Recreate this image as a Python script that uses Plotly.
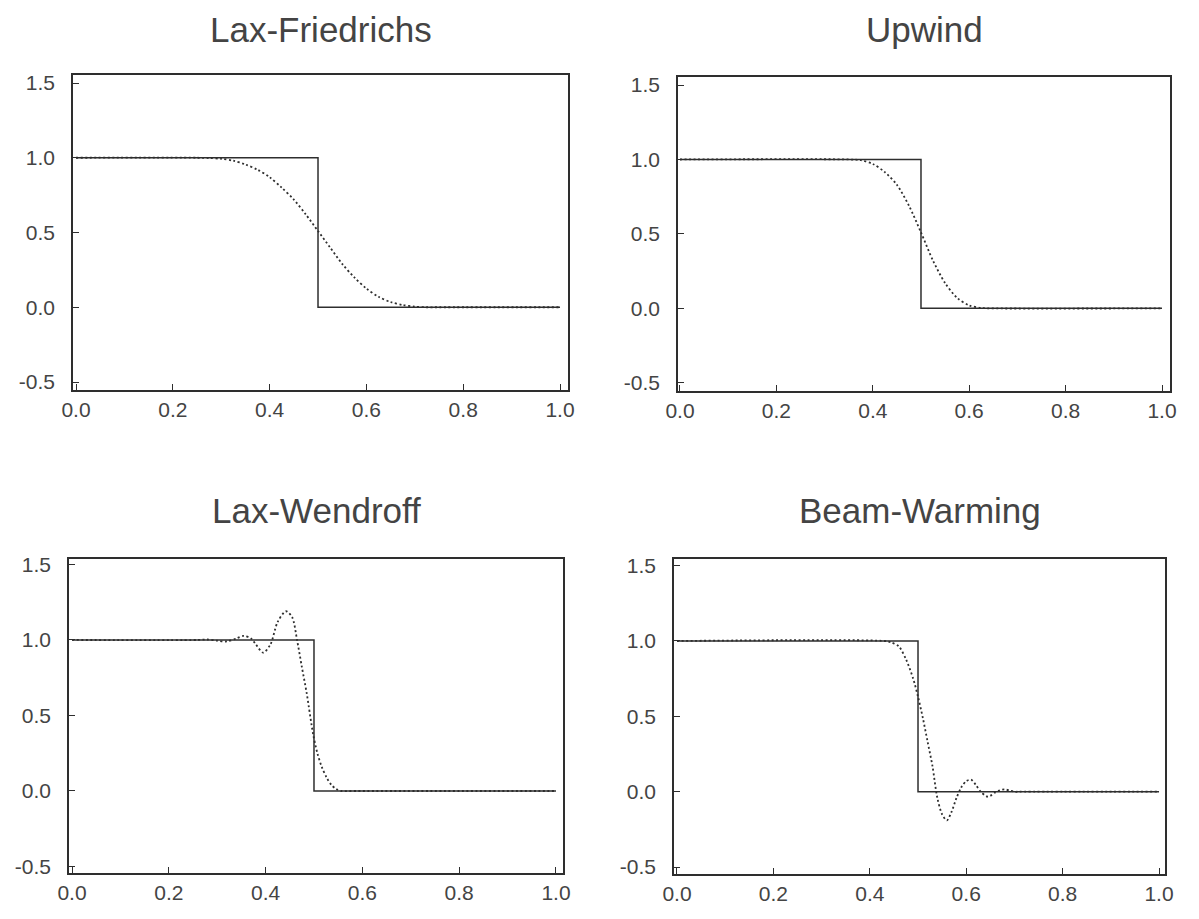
import plotly.graph_objects as go

titles = ["Lax-Friedrichs", "Upwind", "Lax-Wendroff", "Beam-Warming"]

# exact solution (step)
exact_x = [0.0, 0.5, 0.5, 1.0]
exact_y = [1.0, 1.0, 0.0, 0.0]

lf_x = [0.0, 0.25, 0.275, 0.30, 0.325, 0.35, 0.375, 0.40, 0.425, 0.45, 0.475, 0.50,
        0.525, 0.55, 0.575, 0.60, 0.625, 0.65, 0.675, 0.70, 0.725, 0.75, 1.0]
lf_y = [1.0, 1.0, 0.998, 0.993, 0.98, 0.955, 0.92, 0.87, 0.80, 0.72, 0.62, 0.51,
        0.40, 0.29, 0.20, 0.125, 0.07, 0.035, 0.015, 0.004, 0.0, 0.0, 0.0]

up_x = [0.0, 0.35, 0.375, 0.40, 0.425, 0.45, 0.475, 0.50, 0.525, 0.55, 0.575,
        0.60, 0.625, 0.65, 1.0]
up_y = [1.0, 1.0, 0.995, 0.97, 0.915, 0.83, 0.69, 0.51, 0.32, 0.17, 0.07,
        0.02, 0.003, 0.0, 0.0]

lw_x = [0.0, 0.26, 0.28, 0.30, 0.32, 0.34, 0.355, 0.37, 0.38, 0.395, 0.41, 0.425,
        0.442, 0.455, 0.465, 0.475, 0.485, 0.498, 0.507, 0.516, 0.526, 0.536,
        0.546, 0.557, 0.58, 1.0]
lw_y = [1.0, 1.0, 1.003, 0.995, 0.99, 1.01, 1.027, 1.01, 0.97, 0.916, 0.97, 1.12,
        1.19, 1.15, 1.0, 0.82, 0.646, 0.38, 0.25, 0.16, 0.09, 0.04,
        0.013, 0.0, 0.0, 0.0]

bw_x = [0.0, 0.43, 0.445, 0.46, 0.475, 0.49, 0.50, 0.51, 0.52, 0.53, 0.54, 0.55,
        0.56, 0.57, 0.58, 0.59, 0.60, 0.61, 0.62, 0.63, 0.644, 0.65, 0.66, 0.67,
        0.68, 0.69, 0.70, 0.71, 1.0]
bw_y = [1.0, 1.0, 0.99, 0.965, 0.88, 0.75, 0.63, 0.49, 0.33, 0.17, -0.04, -0.15,
        -0.19, -0.13, -0.04, 0.03, 0.07, 0.08, 0.045, 0.0, -0.033, -0.028, -0.005, 0.01,
        0.015, 0.008, 0.0, 0.0, 0.0]

y_ticks = [-0.5, 0.0, 0.5, 1.0, 1.5]
y_labels = ["-0.5", "0.0", "0.5", "1.0", "1.5"]
x_ticks = [0.0, 0.2, 0.4, 0.6, 0.8, 1.0]
x_labels = ["0.0", "0.2", "0.4", "0.6", "0.8", "1.0"]

numeric = [(lf_x, lf_y), (up_x, up_y), (lw_x, lw_y), (bw_x, bw_y)]

W, H = 1199, 919
OFF = 8  # page body margin
# panel boxes in page pixels: (left, right, top, bottom)
boxes = [(73, 568, 75, 390), (678, 1170, 77, 391), (69, 563, 559, 873), (674, 1165, 559, 874)]
xranges = [[-0.0062, 1.0165], [-0.0041, 1.0166], [-0.0062, 1.0145], [-0.0062, 1.0124]]
yranges = [[-0.5535, 1.5535], [-0.555, 1.554], [-0.543, 1.536], [-0.546, 1.544]]

LINE = "#2e2e2e"
TEXT = "#444444"
FONT = "Liberation Sans, Arial, sans-serif"

fig = go.Figure()
layout = dict(width=W, height=H, paper_bgcolor="white", plot_bgcolor="white",
              margin=dict(l=0, r=0, t=0, b=0, pad=0, autoexpand=False), showlegend=False,
              font=dict(family=FONT, color=TEXT, size=21))
annotations = []
for i in range(4):
    sfx = "" if i == 0 else str(i + 1)
    xa, ya = "x" + sfx, "y" + sfx
    fig.add_trace(go.Scatter(x=exact_x, y=exact_y, mode="lines", xaxis=xa, yaxis=ya,
                             line=dict(color=LINE, width=1.5)))
    nx, ny = numeric[i]
    fig.add_trace(go.Scatter(x=nx, y=ny, mode="lines", xaxis=xa, yaxis=ya,
                             line=dict(color=LINE, width=1.8, dash="2px,2.5px", shape="spline",
                                       smoothing=0.8)))
    l, r, t, b = [v - OFF for v in boxes[i]]
    layout["xaxis" + sfx] = dict(domain=[l / W, r / W], range=xranges[i], anchor=ya,
                                 tickvals=x_ticks, ticktext=x_labels, ticks="inside",
                                 ticklen=6, tickcolor=LINE, tickwidth=1.3, automargin=False,
                                 showline=True, linecolor=LINE, linewidth=1.5, mirror=True,
                                 showgrid=False, zeroline=False, ticklabelstandoff=0,
                                 tickfont=dict(size=21, color=TEXT, family=FONT))
    layout["yaxis" + sfx] = dict(domain=[1 - b / H, 1 - t / H], range=yranges[i], anchor=xa,
                                 tickvals=y_ticks, ticktext=y_labels, ticks="inside",
                                 ticklen=6, tickcolor=LINE, tickwidth=1.3, automargin=False,
                                 showline=True, linecolor=LINE, linewidth=1.5, mirror=True,
                                 showgrid=False, zeroline=False, ticklabelstandoff=12,
                                 tickfont=dict(size=21, color=TEXT, family=FONT))
    top_px = max(t - 70, 0)
    annotations.append(dict(text=titles[i], xref="paper", yref="paper",
                            x=(l + r) / 2 / W, y=1 - top_px / H,
                            xanchor="center", yanchor="top", showarrow=False,
                            font=dict(size=35, color=TEXT, family=FONT)))
layout["annotations"] = annotations
fig.update_layout(**layout)
fig.write_html("out.html")
